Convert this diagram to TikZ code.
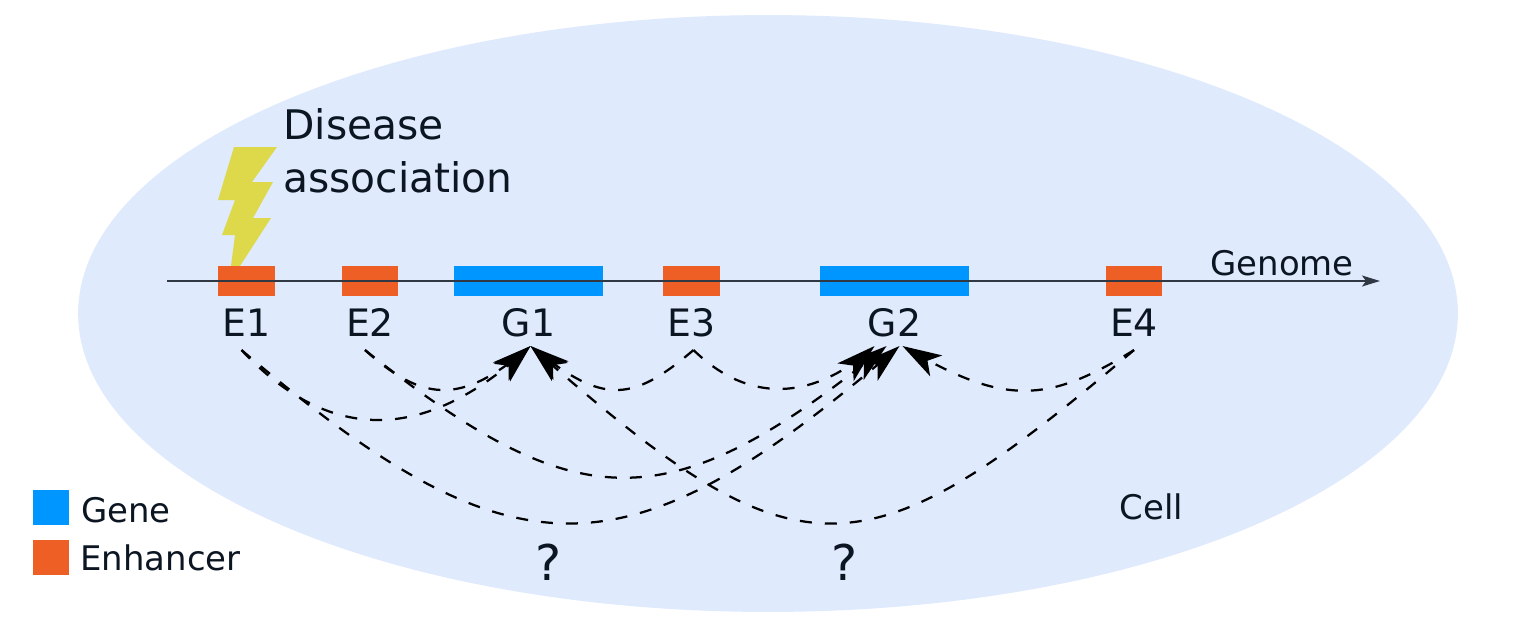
\documentclass[tikz,border=0pt]{standalone}
\usepackage{fontspec}
\setmainfont{DejaVu Sans}
\usetikzlibrary{positioning, arrows.meta, bending, shapes.geometric}
\definecolor{cellblue}{HTML}{DFEAFD}
\definecolor{enhorange}{HTML}{EE5F25}
\definecolor{geneblue}{HTML}{0096FF}
\definecolor{boltyellow}{HTML}{DDD94B}
\definecolor{inkdark}{HTML}{0B1622}

\begin{document}
\begin{tikzpicture}[x=0.02cm, y=-0.02cm, text=inkdark,
        enh/.style={shape=rectangle, fill=enhorange, minimum width=1.13cm, minimum height=0.6cm, inner sep=0pt},
        gene/.style={shape=rectangle, fill=geneblue, minimum width=2.98cm, minimum height=0.6cm, inner sep=0pt},
        elem/.style={font=\fontsize{21.5}{24}\selectfont, minimum height=1.06cm, inner sep=0pt, text height=0.55cm, text depth=0pt},
        swatch/.style={shape=rectangle, minimum width=0.72cm, minimum height=0.7cm, inner sep=0pt},
        txt/.style={font=\fontsize{19.3}{22}\selectfont, inner sep=0pt},
        link/.style={draw=black, line width=0.045cm, dash pattern=on 0.24cm off 0.26cm, -{Stealth[length=0.78cm, width=0.48cm, inset=0.2cm, flex=0]}}]
    \useasboundingbox (0,0) rectangle (1537,626);
    \node[shape=ellipse, fill=cellblue, minimum width=27.6cm, minimum height=11.94cm, inner sep=0pt] (cell) at (768,313.5) {};

    % lightning bolt
    \fill[boltyellow] (234,147) -- (277,147) -- (252,182) -- (273,182) -- (253,218) -- (271,218)
        -- (240,266) -- (231,266) -- (235,235) -- (222,235) -- (235,200) -- (218,200) -- cycle;

    % genome
    \node[enh] (E1) at (246.5,281) {};
    \node[enh] (E2) at (370,281) {};
    \node[gene] (G1) at (528.5,281) {};
    \node[enh] (E3) at (691.5,281) {};
    \node[gene] (G2) at (894.5,281) {};
    \node[enh] (E4) at (1134,281) {};
    \coordinate (start) at (167,281);
    \coordinate (end) at (1380,281);
    \draw[line width=0.03cm, draw=inkdark!85, -{Stealth[length=0.36cm, width=0.22cm, inset=0.08cm]}] (start) -- (end);
    \node[txt, anchor=west] (genome) at (1210,263) {Genome};

    \node[elem, below=0pt of E1] (lE1) {E1};
    \node[elem, below=0pt of E2] (lE2) {E2};
    \node[elem, below=0pt of G1] (lG1) {G1};
    \node[elem, below=0pt of E3] (lE3) {E3};
    \node[elem, below=0pt of G2] (lG2) {G2};
    \node[elem, below=0pt of E4] (lE4) {E4};

    \node[font=\fontsize{23.2}{30}\selectfont, align=left, inner sep=0pt, anchor=west] (disease) at (283,151) {Disease\\association};

    % links to G1
    \draw[link] ([xshift=-0.1cm]lE1.south) .. controls (330,444) and (425,444) .. ([xshift=0.04cm,yshift=0.08cm]lG1.south);
    \draw[link] ([xshift=-0.1cm]lE2.south) .. controls (425,404) and (463,404) .. ([xshift=0.04cm,yshift=0.08cm]lG1.south);
    \draw[link] ([xshift=0.04cm]lE3.south) .. controls (630,404) and (602,404) .. ([xshift=0.04cm,yshift=0.08cm]lG1.south);
    \draw[link] (lE4.south) .. controls (861,582) and (797,582) .. ([xshift=0.04cm,yshift=0.08cm]lG1.south);

    % links to G2
    \draw[link] ([xshift=0.04cm]lE3.south) .. controls (750,405) and (815,400) .. ([xshift=-0.4cm,yshift=0.08cm]lG2.south);
    \draw[link] ([xshift=-0.1cm]lE2.south) .. controls (580,521) and (670,521) .. ([xshift=-0.16cm,yshift=0.08cm]lG2.south);
    \draw[link] ([xshift=-0.1cm]lE1.south) .. controls (515,582) and (625,582) .. ([xshift=0.1cm,yshift=0.08cm]lG2.south);
    \draw[link] (lE4.south) .. controls (1045,405) and (1003,405) .. ([xshift=0.16cm,yshift=0.08cm]lG2.south);

    % question marks and cell label
    \node[font=\fontsize{28}{30}\selectfont, inner sep=0pt] (q1) at (549,562) {?};
    \node[font=\fontsize{28}{30}\selectfont, inner sep=0pt] (q2) at (845,562) {?};
    \node[txt] (celltxt) at (1151.5,507) {Cell};

    % legend
    \node[swatch, fill=geneblue] (kgene) at (51,507.5) {};
    \node[swatch, fill=enhorange] (kenh) at (51,557) {};
    \node[txt, anchor=west] (lgene) at (81,510) {Gene};
    \node[txt, anchor=west] (lenh) at (80,558) {Enhancer};
\end{tikzpicture}
\end{document}
